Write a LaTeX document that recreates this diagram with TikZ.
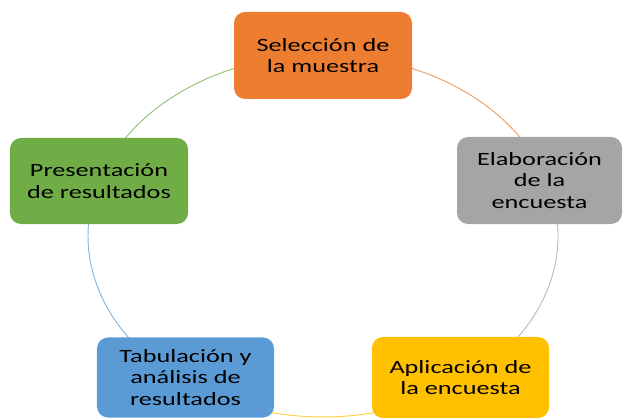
\documentclass[tikz,border=0pt]{standalone}
\usepackage{fontspec}
\setmainfont{Carlito}
\newfontfamily\boxfont[FakeStretch=1.4]{Carlito}
\usepackage{tikz}
\usetikzlibrary{positioning}

\definecolor{accOrange}{HTML}{ED7D31}
\definecolor{accGray}{HTML}{A5A5A5}
\definecolor{accYellow}{HTML}{FFC000}
\definecolor{accBlue}{HTML}{5B9BD5}
\definecolor{accGreen}{HTML}{70AD47}

\begin{document}
\begin{tikzpicture}[
    x=0.03cm,
    y=0.03cm,
    font={\boxfont\fontsize{16}{18.5}\selectfont},
    paso/.style={
        rectangle,
        rounded corners=0.33cm,
        align=center,
        text=black,
        inner sep=2pt,
        minimum width=5.34cm,
        minimum height=2.61cm
    },
    ciclo/.style={
        line width=0.8pt
    }
]

\useasboundingbox (0,0) rectangle (623,419);

% Puntos del ciclo
\coordinate (c1) at (323,364);
\coordinate (c2) at (546.5,238.9);
\coordinate (c3) at (461.1,36.6);
\coordinate (c4) at (184.9,36.6);
\coordinate (c5) at (99.5,238.9);

% Arcos entre pasos
\draw[ciclo, accOrange!75]
    (c1) arc[start angle=90, end angle=18, x radius=235, y radius=181];
\draw[ciclo, accGray!75]
    (c2) arc[start angle=18, end angle=-54, x radius=235, y radius=181];
\draw[ciclo, accYellow!75]
    (c3) arc[start angle=-54, end angle=-126, x radius=235, y radius=181];
\draw[ciclo, accBlue!75]
    (c4) arc[start angle=-126, end angle=-198, x radius=235, y radius=181];
\draw[ciclo, accGreen!75]
    (c5) arc[start angle=162, end angle=90, x radius=235, y radius=181];

% Pasos
\node[paso, fill=accOrange] (sel) at (323,363.5)
    {Selección de\\la muestra};

\node[paso, fill=accGray, minimum width=4.95cm] (ela) at (539.5,238.5)
    {Elaboración\\de la\\encuesta};

\node[paso, fill=accYellow, minimum width=5.31cm, minimum height=2.43cm] (apl) at (460.5,41.5)
    {Aplicación de\\la encuesta};

\node[paso, fill=accBlue, minimum width=5.31cm, minimum height=2.4cm] (tab) at (185.5,41.5)
    {Tabulación y\\análisis de\\resultados};

\node[paso, fill=accGreen, minimum height=2.58cm] (pre) at (99,238)
    {Presentación\\de resultados};

\end{tikzpicture}
\end{document}
